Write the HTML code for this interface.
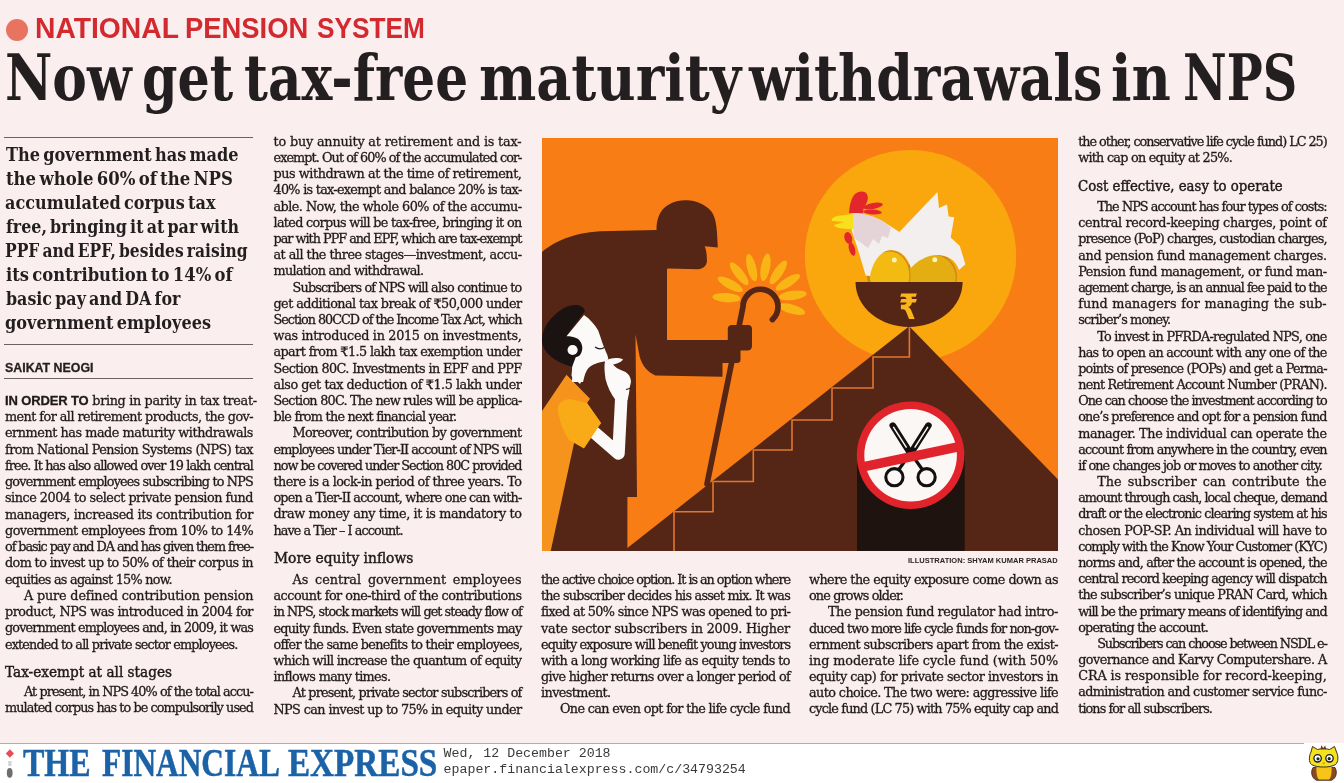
<!DOCTYPE html>
<html><head><meta charset="utf-8"><title>Now get tax-free maturity withdrawals in NPS</title>
<style>
html,body{margin:0;padding:0}
body{width:1344px;height:783px;overflow:hidden;position:relative;background:#fbeeef;color:#231f20;font-family:"DejaVu Serif", "Liberation Serif", serif}
.ifit{transform-origin:0 0}
#hlw{position:absolute;left:0;top:0;width:0;height:0;margin:0;font-size:16px;font-weight:normal}
.ln{position:absolute;white-space:nowrap;font-size:12.8px;line-height:16px;height:16px;color:#1f1a1b;-webkit-text-stroke:0.3px #1f1a1b}
.lead{font-family:"Liberation Sans",sans-serif;font-size:13px;letter-spacing:-0.13px}
.hd{position:absolute;white-space:nowrap;font-size:14.7px;line-height:20px;color:#1f1a1b;-webkit-text-stroke:0.45px #1f1a1b}
.dk{position:absolute;white-space:nowrap;font-family:"DejaVu Serif Condensed","DejaVu Serif",serif;font-weight:bold;font-size:19px;line-height:24px;color:#231f20;word-spacing:-2.5px}
.rule{position:absolute;left:4px;width:249px;height:1px;background:#6b6264}
#kick{position:absolute;left:0;top:0;width:0;height:0}
.kk{position:absolute;top:10.54px;font-family:"Liberation Sans",sans-serif;font-weight:bold;font-size:30.2px;line-height:34px;color:#d22a2f;white-space:nowrap}
#dot{position:absolute;left:6.2px;top:19px;width:22px;height:22px;border-radius:50%;background:#e8735f}
.hl{position:absolute;top:38.06px;font-family:"DejaVu Serif Condensed","DejaVu Serif",serif;font-weight:bold;font-size:64px;line-height:80px;color:#231f20;white-space:nowrap}
#by{position:absolute;left:5.5px;top:361.13px;font-family:"Liberation Sans",sans-serif;font-weight:bold;font-size:12.6px;line-height:14px;color:#231f20;-webkit-text-stroke:0.3px #231f20}
#foot{position:absolute;left:0;top:743px;width:1344px;height:40px;background:#fff}
#fline{position:absolute;left:0;top:742.5px;width:1304px;height:1.5px;background:#b3acad}
#fe{position:absolute;left:0;top:0;width:0;height:0;}
.fe{position:absolute;top:742.90px;font-family:"Liberation Serif",serif;font-weight:bold;font-size:39.7px;line-height:40px;color:#1b62a7;white-space:nowrap;-webkit-text-stroke:0.5px #1b62a7}
.mono{position:absolute;left:443.6px;font-family:"Liberation Mono",monospace;font-size:13.25px;line-height:16px;color:#3a3a3a;white-space:pre}
#cap{position:absolute;left:908px;top:555.53px;font-family:"Liberation Sans",sans-serif;font-weight:bold;font-size:8px;line-height:9px;color:#2a2426;white-space:nowrap}
#ill{position:absolute;left:542px;top:138px;width:516px;height:413px}
</style></head><body>
<div id="dot"></div>
<div id="kick"><span class="kk ifit" style="left:34.55px;transform:scaleX(0.9364);">NATIONAL</span> <span class="kk ifit" style="left:185.14px;transform:scaleX(0.9076);">PENSION</span> <span class="kk ifit" style="left:316.57px;transform:scaleX(0.8694);">SYSTEM</span></div>
<h1 id="hlw"><span class="hl ifit" style="left:5.44px;transform:scaleX(0.9000);">Now</span> <span class="hl ifit" style="left:141.67px;transform:scaleX(0.8812);">get</span> <span class="hl ifit" style="left:243.91px;transform:scaleX(0.8988);">tax-free</span> <span class="hl ifit" style="left:478.90px;transform:scaleX(0.9401);">maturity</span> <span class="hl ifit" style="left:748.72px;transform:scaleX(0.9088);">withdrawals</span> <span class="hl ifit" style="left:1111.48px;transform:scaleX(0.9393);">in</span> <span class="hl ifit" style="left:1182.79px;transform:scaleX(0.8311);">NPS</span></h1>
<div class="rule" style="top:137px"></div>
<div class="dk ifit" style="left:6.30px;transform:scaleX(0.9439);top:142.43px">The government has made</div>
<div class="dk ifit" style="left:6.30px;transform:scaleX(0.9650);top:166.32px">the whole 60% of the NPS</div>
<div class="dk ifit" style="left:5.36px;transform:scaleX(0.9395);top:190.21px">accumulated corpus tax</div>
<div class="dk ifit" style="left:6.30px;transform:scaleX(0.9287);top:214.10px">free, bringing it at par with</div>
<div class="dk ifit" style="left:5.39px;transform:scaleX(0.9067);top:237.99px">PPF and EPF, besides raising</div>
<div class="dk ifit" style="left:6.30px;transform:scaleX(0.9595);top:261.88px">its contribution to 14% of</div>
<div class="dk ifit" style="left:6.30px;transform:scaleX(0.9293);top:285.77px">basic pay and DA for</div>
<div class="dk ifit" style="left:5.36px;transform:scaleX(0.9433);top:309.66px">government employees</div>
<div class="rule" style="top:344px"></div>
<div id="by" class="ifit" style="left:5.01px;transform:scaleX(0.9831)">SAIKAT NEOGI</div>
<div class="rule" style="top:378px"></div>
<div id="l0" class="ln" style="left:5.00px;top:392.97px;letter-spacing:-0.337px;"><b class='lead'>IN ORDER TO</b> bring in parity in tax treat-</div>
<div id="l1" class="ln" style="left:5.00px;top:409.22px;letter-spacing:-0.557px;">ment for all retirement products, the gov-</div>
<div id="l2" class="ln" style="left:5.00px;top:425.47px;letter-spacing:-0.449px;">ernment has made maturity withdrawals</div>
<div id="l3" class="ln" style="left:5.00px;top:441.72px;letter-spacing:-0.558px;">from National Pension Systems (NPS) tax</div>
<div id="l4" class="ln" style="left:5.00px;top:457.97px;letter-spacing:-0.915px;">free. It has also allowed over 19 lakh central</div>
<div id="l5" class="ln" style="left:5.00px;top:474.22px;letter-spacing:-0.825px;">government employees subscribing to NPS</div>
<div id="l6" class="ln" style="left:5.00px;top:490.47px;letter-spacing:-0.478px;">since 2004 to select private pension fund</div>
<div id="l7" class="ln" style="left:5.00px;top:506.72px;letter-spacing:-0.351px;">managers, increased its contribution for</div>
<div id="l8" class="ln" style="left:5.00px;top:522.97px;letter-spacing:-0.543px;">government employees from 10% to 14%</div>
<div id="l9" class="ln" style="left:5.00px;top:539.22px;letter-spacing:-1.058px;">of basic pay and DA and has given them free-</div>
<div id="l10" class="ln" style="left:5.00px;top:555.47px;letter-spacing:-0.619px;">dom to invest up to 50% of their corpus in</div>
<div id="l11" class="ln" style="left:5.00px;top:571.72px;letter-spacing:-0.734px;">equities as against 15% now.</div>
<div id="l12" class="ln" style="left:24.00px;top:587.97px;letter-spacing:-0.161px;">A pure defined contribution pension</div>
<div id="l13" class="ln" style="left:5.00px;top:604.22px;letter-spacing:-0.490px;">product, NPS was introduced in 2004 for</div>
<div id="l14" class="ln" style="left:5.00px;top:620.47px;letter-spacing:-0.846px;">government employees and, in 2009, it was</div>
<div id="l15" class="ln" style="left:5.00px;top:636.72px;letter-spacing:-0.860px;">extended to all private sector employees.</div>
<div class="hd ifit" style="left:5.00px;transform:scaleX(0.9278);top:661.71px">Tax-exempt at all stages</div>
<div id="l16" class="ln" style="left:24.00px;top:683.97px;letter-spacing:-0.931px;">At present, in NPS 40% of the total accu-</div>
<div id="l17" class="ln" style="left:5.00px;top:700.22px;letter-spacing:-0.914px;">mulated corpus has to be compulsorily used</div>
<div id="l18" class="ln" style="left:273.50px;top:133.87px;letter-spacing:-0.178px;">to buy annuity at retirement and is tax-</div>
<div id="l19" class="ln" style="left:273.50px;top:150.07px;letter-spacing:-0.930px;">exempt. Out of 60% of the accumulated cor-</div>
<div id="l20" class="ln" style="left:273.50px;top:166.27px;letter-spacing:-0.447px;">pus withdrawn at the time of retirement,</div>
<div id="l21" class="ln" style="left:273.50px;top:182.47px;letter-spacing:-0.714px;">40% is tax-exempt and balance 20% is tax-</div>
<div id="l22" class="ln" style="left:273.50px;top:198.67px;letter-spacing:-0.531px;">able. Now, the whole 60% of the accumu-</div>
<div id="l23" class="ln" style="left:273.50px;top:214.87px;letter-spacing:-0.684px;">lated corpus will be tax-free, bringing it on</div>
<div id="l24" class="ln" style="left:273.50px;top:231.07px;letter-spacing:-0.997px;">par with PPF and EPF, which are tax-exempt</div>
<div id="l25" class="ln" style="left:273.50px;top:247.27px;letter-spacing:-0.526px;">at all the three stages—investment, accu-</div>
<div id="l26" class="ln" style="left:273.50px;top:263.47px;letter-spacing:-0.696px;">mulation and withdrawal.</div>
<div id="l27" class="ln" style="left:292.50px;top:279.67px;letter-spacing:-0.812px;">Subscribers of NPS will also continue to</div>
<div id="l28" class="ln" style="left:273.50px;top:295.87px;letter-spacing:-0.569px;">get additional tax break of ₹50,000 under</div>
<div id="l29" class="ln" style="left:273.50px;top:312.07px;letter-spacing:-1.031px;">Section 80CCD of the Income Tax Act, which</div>
<div id="l30" class="ln" style="left:273.50px;top:328.27px;letter-spacing:-0.305px;">was introduced in 2015 on investments,</div>
<div id="l31" class="ln" style="left:273.50px;top:344.47px;letter-spacing:-0.606px;">apart from ₹1.5 lakh tax exemption under</div>
<div id="l32" class="ln" style="left:273.50px;top:360.67px;letter-spacing:-0.605px;">Section 80C. Investments in EPF and PPF</div>
<div id="l33" class="ln" style="left:273.50px;top:376.87px;letter-spacing:-0.462px;">also get tax deduction of ₹1.5 lakh under</div>
<div id="l34" class="ln" style="left:273.50px;top:393.07px;letter-spacing:-0.765px;">Section 80C. The new rules will be applica-</div>
<div id="l35" class="ln" style="left:273.50px;top:409.27px;letter-spacing:-0.739px;">ble from the next financial year.</div>
<div id="l36" class="ln" style="left:292.50px;top:425.47px;letter-spacing:-0.629px;">Moreover, contribution by government</div>
<div id="l37" class="ln" style="left:273.50px;top:441.67px;letter-spacing:-0.924px;">employees under Tier-II account of NPS will</div>
<div id="l38" class="ln" style="left:273.50px;top:457.87px;letter-spacing:-1.002px;">now be covered under Section 80C provided</div>
<div id="l39" class="ln" style="left:273.50px;top:474.07px;letter-spacing:-0.546px;">there is a lock-in period of three years. To</div>
<div id="l40" class="ln" style="left:273.50px;top:490.27px;letter-spacing:-0.830px;">open a Tier-II account, where one can with-</div>
<div id="l41" class="ln" style="left:273.50px;top:506.47px;letter-spacing:-0.388px;">draw money any time, it is mandatory to</div>
<div id="l42" class="ln" style="left:273.50px;top:522.67px;letter-spacing:-0.945px;">have a Tier – I account.</div>
<div class="hd ifit" style="left:274.00px;transform:scaleX(0.9392);top:548.11px">More equity inflows</div>
<div id="l43" class="ln" style="left:292.50px;top:572.07px;word-spacing:2.745px;">As central government employees</div>
<div id="l44" class="ln" style="left:273.50px;top:588.27px;letter-spacing:-0.521px;">account for one-third of the contributions</div>
<div id="l45" class="ln" style="left:273.50px;top:604.47px;letter-spacing:-0.943px;">in NPS, stock markets will get steady flow of</div>
<div id="l46" class="ln" style="left:273.50px;top:620.67px;letter-spacing:-0.725px;">equity funds. Even state governments may</div>
<div id="l47" class="ln" style="left:273.50px;top:636.87px;letter-spacing:-0.705px;">offer the same benefits to their employees,</div>
<div id="l48" class="ln" style="left:273.50px;top:653.07px;letter-spacing:-0.610px;">which will increase the quantum of equity</div>
<div id="l49" class="ln" style="left:273.50px;top:669.27px;letter-spacing:-0.660px;">inflows many times.</div>
<div id="l50" class="ln" style="left:292.50px;top:685.47px;letter-spacing:-0.806px;">At present, private sector subscribers of</div>
<div id="l51" class="ln" style="left:273.50px;top:701.67px;letter-spacing:-0.598px;">NPS can invest up to 75% in equity under</div>
<div id="l52" class="ln" style="left:541.00px;top:572.07px;letter-spacing:-1.036px;">the active choice option. It is an option where</div>
<div id="l53" class="ln" style="left:541.00px;top:588.23px;letter-spacing:-0.770px;">the subscriber decides his asset mix. It was</div>
<div id="l54" class="ln" style="left:541.00px;top:604.39px;letter-spacing:-0.651px;">fixed at 50% since NPS was opened to pri-</div>
<div id="l55" class="ln" style="left:541.00px;top:620.55px;letter-spacing:-0.229px;">vate sector subscribers in 2009. Higher</div>
<div id="l56" class="ln" style="left:541.00px;top:636.71px;letter-spacing:-0.871px;">equity exposure will benefit young investors</div>
<div id="l57" class="ln" style="left:541.00px;top:652.87px;letter-spacing:-0.573px;">with a long working life as equity tends to</div>
<div id="l58" class="ln" style="left:541.00px;top:669.03px;letter-spacing:-0.686px;">give higher returns over a longer period of</div>
<div id="l59" class="ln" style="left:541.00px;top:685.19px;letter-spacing:-0.583px;">investment.</div>
<div id="l60" class="ln" style="left:560.00px;top:701.35px;letter-spacing:-0.655px;">One can even opt for the life cycle fund</div>
<div id="l61" class="ln" style="left:809.00px;top:572.07px;letter-spacing:-0.536px;">where the equity exposure come down as</div>
<div id="l62" class="ln" style="left:809.00px;top:588.23px;letter-spacing:-0.846px;">one grows older.</div>
<div id="l63" class="ln" style="left:828.00px;top:604.39px;letter-spacing:-0.411px;">The pension fund regulator had intro-</div>
<div id="l64" class="ln" style="left:809.00px;top:620.55px;letter-spacing:-0.918px;">duced two more life cycle funds for non-gov-</div>
<div id="l65" class="ln" style="left:809.00px;top:636.71px;letter-spacing:-0.562px;">ernment subscribers apart from the exist-</div>
<div id="l66" class="ln" style="left:809.00px;top:652.87px;letter-spacing:-0.079px;">ing moderate life cycle fund (with 50%</div>
<div id="l67" class="ln" style="left:809.00px;top:669.03px;letter-spacing:-0.471px;">equity cap) for private sector investors in</div>
<div id="l68" class="ln" style="left:809.00px;top:685.19px;letter-spacing:-0.596px;">auto choice. The two were: aggressive life</div>
<div id="l69" class="ln" style="left:809.00px;top:701.35px;letter-spacing:-0.837px;">cycle fund (LC 75) with 75% equity cap and</div>
<div id="l70" class="ln" style="left:1078.20px;top:133.97px;letter-spacing:-1.029px;">the other, conservative life cycle fund) LC 25)</div>
<div id="l71" class="ln" style="left:1078.20px;top:150.15px;letter-spacing:-0.756px;">with cap on equity at 25%.</div>
<div class="hd ifit" style="left:1078.00px;transform:scaleX(0.9062);top:176.41px">Cost effective, easy to operate</div>
<div id="l72" class="ln" style="left:1097.20px;top:199.07px;letter-spacing:-0.926px;">The NPS account has four types of costs:</div>
<div id="l73" class="ln" style="left:1078.20px;top:215.25px;letter-spacing:-0.348px;">central record-keeping charges, point of</div>
<div id="l74" class="ln" style="left:1078.20px;top:231.43px;letter-spacing:-0.840px;">presence (PoP) charges, custodian charges,</div>
<div id="l75" class="ln" style="left:1078.20px;top:247.61px;letter-spacing:-0.331px;">and pension fund management charges.</div>
<div id="l76" class="ln" style="left:1078.20px;top:263.79px;letter-spacing:-0.428px;">Pension fund management, or fund man-</div>
<div id="l77" class="ln" style="left:1078.20px;top:279.97px;letter-spacing:-0.953px;">agement charge, is an annual fee paid to the</div>
<div id="l78" class="ln" style="left:1078.20px;top:296.15px;word-spacing:0.694px;">fund managers for managing the sub-</div>
<div id="l79" class="ln" style="left:1078.20px;top:312.33px;letter-spacing:-0.861px;">scriber’s money.</div>
<div id="l80" class="ln" style="left:1097.20px;top:328.51px;letter-spacing:-0.721px;">To invest in PFRDA-regulated NPS, one</div>
<div id="l81" class="ln" style="left:1078.20px;top:344.69px;letter-spacing:-0.732px;">has to open an account with any one of the</div>
<div id="l82" class="ln" style="left:1078.20px;top:360.87px;letter-spacing:-0.802px;">points of presence (POPs) and get a Perma-</div>
<div id="l83" class="ln" style="left:1078.20px;top:377.05px;letter-spacing:-0.771px;">nent Retirement Account Number (PRAN).</div>
<div id="l84" class="ln" style="left:1078.20px;top:393.23px;letter-spacing:-0.964px;">One can choose the investment according to</div>
<div id="l85" class="ln" style="left:1078.20px;top:409.41px;letter-spacing:-0.844px;">one’s preference and opt for a pension fund</div>
<div id="l86" class="ln" style="left:1078.20px;top:425.59px;letter-spacing:-0.369px;">manager. The individual can operate the</div>
<div id="l87" class="ln" style="left:1078.20px;top:441.77px;letter-spacing:-0.895px;">account from anywhere in the country, even</div>
<div id="l88" class="ln" style="left:1078.20px;top:457.95px;letter-spacing:-0.889px;">if one changes job or moves to another city.</div>
<div id="l89" class="ln" style="left:1097.20px;top:474.13px;word-spacing:2.109px;">The subscriber can contribute the</div>
<div id="l90" class="ln" style="left:1078.20px;top:490.31px;letter-spacing:-0.981px;">amount through cash, local cheque, demand</div>
<div id="l91" class="ln" style="left:1078.20px;top:506.49px;letter-spacing:-0.901px;">draft or the electronic clearing system at his</div>
<div id="l92" class="ln" style="left:1078.20px;top:522.67px;letter-spacing:-0.486px;">chosen POP-SP. An individual will have to</div>
<div id="l93" class="ln" style="left:1078.20px;top:538.85px;letter-spacing:-0.954px;">comply with the Know Your Customer (KYC)</div>
<div id="l94" class="ln" style="left:1078.20px;top:555.03px;letter-spacing:-0.825px;">norms and, after the account is opened, the</div>
<div id="l95" class="ln" style="left:1078.20px;top:571.21px;letter-spacing:-0.855px;">central record keeping agency will dispatch</div>
<div id="l96" class="ln" style="left:1078.20px;top:587.39px;letter-spacing:-0.751px;">the subscriber’s unique PRAN Card, which</div>
<div id="l97" class="ln" style="left:1078.20px;top:603.57px;letter-spacing:-0.907px;">will be the primary means of identifying and</div>
<div id="l98" class="ln" style="left:1078.20px;top:619.75px;letter-spacing:-0.797px;">operating the account.</div>
<div id="l99" class="ln" style="left:1097.20px;top:635.93px;letter-spacing:-1.113px;">Subscribers can choose between NSDL e-</div>
<div id="l100" class="ln" style="left:1078.20px;top:652.11px;letter-spacing:-0.530px;">governance and Karvy Computershare. A</div>
<div id="l101" class="ln" style="left:1078.20px;top:668.29px;letter-spacing:-0.091px;">CRA is responsible for record-keeping,</div>
<div id="l102" class="ln" style="left:1078.20px;top:684.47px;letter-spacing:-0.647px;">administration and customer service func-</div>
<div id="l103" class="ln" style="left:1078.20px;top:700.65px;letter-spacing:-0.923px;">tions for all subscribers.</div>
<div id="ill"><svg width="516" height="413" viewBox="0 0 516 413" style="display:block">
<rect width="516" height="413" fill="#f77d14"/>
<circle cx="368.5" cy="117.6" r="105.7" fill="#faa70e"/>
<g fill="#f9b416">
<ellipse cx="251" cy="162" rx="14" ry="4.6" transform="rotate(-176 217.7 162)"/>
<ellipse cx="251" cy="162" rx="14" ry="4.6" transform="rotate(-152 217.7 162)"/>
<ellipse cx="251" cy="162" rx="14" ry="4.6" transform="rotate(-128 217.7 162)"/>
<ellipse cx="251" cy="162" rx="14" ry="4.6" transform="rotate(-104 217.7 162)"/>
<ellipse cx="251" cy="162" rx="14" ry="4.6" transform="rotate(-80 217.7 162)"/>
<ellipse cx="251" cy="162" rx="14" ry="4.6" transform="rotate(-56 217.7 162)"/>
<ellipse cx="251" cy="162" rx="14" ry="4.6" transform="rotate(-32 217.7 162)"/>
<ellipse cx="251" cy="162" rx="14" ry="4.6" transform="rotate(-8 217.7 162)"/>
<ellipse cx="251" cy="162" rx="14" ry="4.6" transform="rotate(16 217.7 162)"/>
</g>
<!-- pyramid -->
<path d="M367.2,188.2 L516,341.5 L516,413 L81.6,413 Z" fill="#552616"/>
<!-- stair lines -->
<path d="M132,413 L132,373.7 L171,373.7 L171,343.5 L211.3,343.5 L211.3,312 L250,312 L250,282 L290,282 L290,250 L331,250 L331,219 L367.4,219 L367.4,189" fill="none" stroke="#e2772e" stroke-width="1.6"/>
<!-- doorway -->
<rect x="315" y="317" width="107.7" height="96" fill="#1f1310"/>
<!-- sign -->
<circle cx="368.6" cy="317.3" r="53.8" fill="#e1232b"/>
<circle cx="368.6" cy="317.3" r="46.3" fill="#fbf7f5"/>
<g stroke="#151010" stroke-linecap="round" fill="none">
<line x1="350.8" y1="287.6" x2="368.5" y2="315.5" stroke-width="6.6"/>
<line x1="386.4" y1="287.6" x2="368.7" y2="315.5" stroke-width="6.6"/>
<path d="M368.6,315 L356.5,332 M368.6,315 L380.7,332" stroke-width="3.2"/>
<circle cx="352.4" cy="339.2" r="8.6" stroke-width="3.1" fill="#fbf7f5"/>
<circle cx="384.6" cy="339.2" r="8.6" stroke-width="3.1" fill="#fbf7f5"/>
</g>
<g stroke="#fbf7f5" stroke-linecap="round">
<line x1="351.6" y1="289.3" x2="364.2" y2="309.2" stroke-width="1.5"/>
<line x1="385.6" y1="289.3" x2="373" y2="309.2" stroke-width="1.5"/>
</g>
<clipPath id="sc"><circle cx="368.6" cy="317.3" r="47"/></clipPath>
<line x1="318" y1="329.6" x2="420" y2="308" stroke="#e1232b" stroke-width="9.6" clip-path="url(#sc)"/>
<!-- eggs -->
<ellipse cx="389" cy="139" rx="26" ry="24.6" fill="#c98a17" transform="rotate(-8 389 139)"/>
<ellipse cx="389.6" cy="139.6" rx="24" ry="23" fill="#e4ad12" transform="rotate(-8 389 139)"/>
<ellipse cx="346.7" cy="137.2" rx="21.8" ry="25.3" fill="#c98a17"/>
<ellipse cx="347.6" cy="137.4" rx="19.8" ry="24" fill="#f3bb12"/>
<circle cx="352.3" cy="122" r="2.5" fill="#fff3b0"/>
<circle cx="392.8" cy="121.8" r="2.5" fill="#fff3b0"/>
<!-- chicken -->
<path d="M309.7,75.7 C318,75 330,77 342,84 L357.4,94 L395.4,54 L397,70 L405,66.6 L406.6,78.5 L412.2,79.2 L408.7,99.6 L417.8,108 L423.4,126.3 L417,132 C414,122 405,117 395,117 C385,117 375,123 369,130 C365,118 358,112 349,112 C340,112 331,122 328,138 L323.7,137.5 L315.3,109.4 L309.7,92.6 Z" fill="#f4efef"/>
<path d="M309.7,75.7 C318,75 330,77 342,84 L349,90 L346,100 L340,98 L337,106 L331,101 L326,110 L318,104 L312,100 Z" fill="#e4d3d7"/>
<g fill="#e2262b"><path d="M307,75 C307.5,68 309,61 312,57 C315,53.5 320,52.5 323.5,54.5 C326.5,57 326.5,62 324,66 L321.5,71 L321,75 Z"/><ellipse cx="331" cy="68" rx="10" ry="3" transform="rotate(-10 331 68)"/><ellipse cx="330.5" cy="74" rx="9.3" ry="2.4" transform="rotate(3 330.5 74)"/></g>
<path d="M311,76 L295,78 C291,79 289,81 290,83 L302,84 L292,87 C293,90 300,91 311,91 Z" fill="#f6e11c"/>
<g fill="#e2262b"><ellipse cx="306.3" cy="100" rx="3.8" ry="6" transform="rotate(-15 306.3 100)"/><ellipse cx="310" cy="111" rx="3" ry="7" transform="rotate(-15 310 111)"/></g>
<!-- bowl -->
<path d="M313.5,144 L420.6,144 A53.5,45 0 0 1 313.5,144 Z" fill="#552616"/>
<text x="0" y="0" font-family="DejaVu Sans, sans-serif" font-size="35" font-weight="bold" fill="#f9b51a" text-anchor="middle" transform="translate(366.6 180.6) scale(0.8 1)">₹</text>
<!-- old man -->
<path d="M0,114 C12,104 30,95 58,93.3 L114.5,92 C114.5,80 118,72 126,67 C132,63 139,62 145,62.2 C154,62.5 163,66 169,73 C173,78 174.5,86 175,95 L175.8,109.5 L162.6,108.3 C164.5,112 164.9,118 164.9,123.3 C164.5,128 161,131 156,131.3 L126,130.5 L125,131 L125,202 L185.8,202 L185.8,191 C185.8,188.5 187.5,187 190,187 L206,187 C208.5,187 210,188.5 210,191 L210,208 C210,211 208,212.5 205,212.5 L198.5,212.5 L198.5,222 C198.5,224 197,225 195,225 L180.5,225 L180.5,238.7 L113.4,237.5 C106,234 100,228 97.5,218 L93.5,196.4 L95,359 L85.4,359 L85.4,413 L0,413 Z" fill="#552616"/>
<!-- cane -->
<path d="M165,346 L201,168.75 A17.5,17.5 0 0 1 236,168.75 A17.5,17.5 0 0 1 230.4,181.6" fill="none" stroke="#552616" stroke-width="5.7" stroke-linecap="round"/>
<!-- young man: torso -->
<path d="M0,273 L24.5,236.8 L48,260.8 L45,265 L59.2,285.3 L33,300.8 L8.7,413 L0,413 Z" fill="#f5931c"/>
<!-- arm -->
<path d="M50,292.5 L76.5,315.5 L79.5,256" fill="none" stroke="#fbfaf8" stroke-width="12.5" stroke-linejoin="round" stroke-linecap="round"/>
<!-- sleeve -->
<path d="M16,272 C15,266 21,261 28,261 L45,265 L59,285 L42,310.5 L27,302 C21,292 17,282 16,272 Z" fill="#f9ab17"/>
<!-- hand -->
<path d="M63,223 C68,219.5 76,219 81,221.2 C80,224 75,225.5 71,226.5 C73,229 76,231 80,232.5 C85,234 89,238 89,244 L87.5,250 C87.5,254 86.5,258 85.5,262 L73.5,262 C69,256 65.5,249 63.5,241 C62.5,234 62,228 63,223 Z" fill="#fbfaf8"/>
<path d="M84,251.5 L89.5,250" stroke="#3a1a10" stroke-width="1.2"/>
<!-- neck -->
<path d="M31,220 L47,222 L57,224.5 C52,226 47,228 44.5,233 L38,246 L29.5,238 Z" fill="#fbfaf8"/>
<!-- hair -->
<path d="M43,173 C41,166 31,165.5 22,170 C10,177 1,188 0,200 C-1,213 10,223 30,229 L36,222 L42,213 L41,204 L33,198 L25,197 Z" fill="#1b1311"/>
<!-- face -->
<path d="M24.5,198.3 L42,177 C48,181 53,187 56.2,192.6 L58.7,199.8 C60.5,206 63,212 65.4,217.2 L66.4,221.2 L63.3,223.3 L57.2,224.5 C51,226 46,228 44,232 L41,244 L30,244 L30.6,227.4 L33.7,219.2 C36,218.8 37.5,218 38.2,216.8 C40,214 40.6,211 40.2,208.5 C39.6,205 38,202.5 35.8,200.8 C32,198.8 28,198.3 24.5,198.3 Z" fill="#fbfaf8"/>
<circle cx="30.6" cy="212" r="5.1" fill="#fbfaf8"/>
<path d="M53.1,209 Q57.7,212.5 62.3,209.5" fill="none" stroke="#1b1311" stroke-width="1.2"/>
</svg>
</div>
<div id="cap" class="ifit" style="left:908.00px;transform:scaleX(0.9409)">ILLUSTRATION: SHYAM KUMAR PRASAD</div>
<div id="foot"></div>
<div id="fline"></div>
<div id="fe"><span class="fe ifit" style="left:23.36px;transform:scaleX(0.8061);">THE</span> <span class="fe ifit" style="left:101.64px;transform:scaleX(0.7906);">FINANCIAL</span> <span class="fe ifit" style="left:287.90px;transform:scaleX(0.8356);">EXPRESS</span></div>
<div class="mono" style="top:746.27px">Wed, 12 December 2018</div>
<div class="mono" style="top:761.77px">epaper.financialexpress.com/c/34793254</div>
<svg style="position:absolute;left:0;top:743px" width="20" height="40" viewBox="0 0 20 40"><path d="M9.9,6.2 L14,10.5 L9.9,14.8 L5.8,10.5 Z" fill="#ec4a55"/><rect x="8.2" y="18" width="3.4" height="5" fill="#d5d5d5"/><ellipse cx="9.7" cy="29.9" rx="2.9" ry="4.8" fill="#6e6e6e"/></svg>
<svg style="position:absolute;left:1308px;top:744px" width="32" height="39" viewBox="0 0 32 39"><path d="M5,23.5 C2.5,28 3.5,34 8.5,36.3 L23.5,36.3 C28.5,34 29.5,28 27,23.5 Z" fill="#8a4a22" stroke="#3a2010" stroke-width="0.8"/><path d="M8.5,23 C8,28 9,34 11,35.6 L21,35.6 C23,34 24,28 23.5,23 Z" fill="#f7c417"/><path d="M3,8 L4.5,2.5 L9.5,5.5 C12,4.5 19,4.5 21.5,5.5 L26.5,2.5 L28.5,8 C30.5,12 30.5,18 27.5,20.5 C24.5,22.5 20,23 15.5,23 C11,23 6.5,22.5 3.5,20.5 C0.5,18 1,12 3,8 Z" fill="#f5e21e" stroke="#2a1a10" stroke-width="0.9"/><path d="M12.5,5.2 L13.3,1.3 L15.3,4 L17.2,1.6 L18.2,5.2 Z" fill="#6a3a18"/><circle cx="9.6" cy="14.3" r="3.7" fill="#fff" stroke="#1d1d1d" stroke-width="1.3"/><circle cx="21.5" cy="14.3" r="3.7" fill="#fff" stroke="#1d1d1d" stroke-width="1.3"/><circle cx="10" cy="14.8" r="1.6" fill="#222"/><circle cx="21.2" cy="14.7" r="1.6" fill="#222"/><path d="M14.3,18.4 L17.1,18.4 L15.7,20.8 Z" fill="#ef7a20"/></svg>
</body></html>
